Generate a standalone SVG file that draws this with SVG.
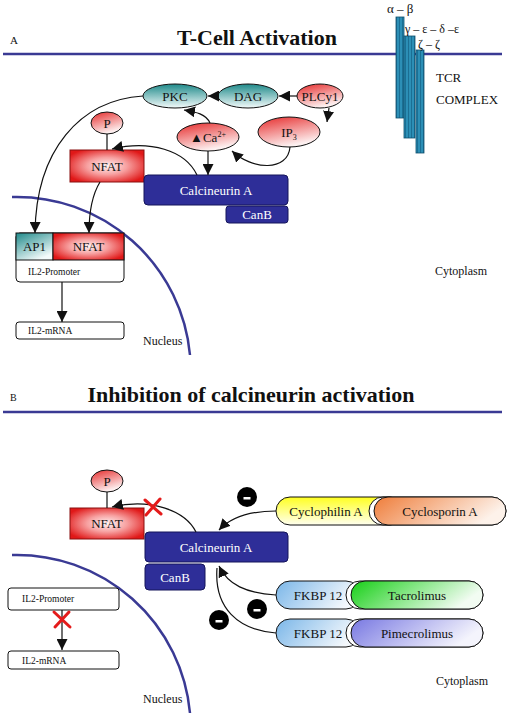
<svg xmlns="http://www.w3.org/2000/svg" width="508" height="715" viewBox="0 0 508 715" font-family="'Liberation Serif', 'DejaVu Serif', serif">
<defs>
<style>
text{font-family:'Liberation Serif','DejaVu Serif',serif;fill:#111}
.title{font-size:22px;font-weight:bold}
.lbl{font-size:13px}
.sm{font-size:9.5px}
.w{fill:#fff;font-size:13px}
.mem{stroke:#3a3a94;stroke-width:2.5;fill:none}
.ell{stroke:#111;stroke-width:1}
.calc{fill:#2e2e98;stroke:#15155a;stroke-width:1}
.con{fill:none;stroke:#111;stroke-width:1.2}
.box{fill:#fff;stroke:#111;stroke-width:1}
.x{stroke:#e41b1b;stroke-width:3;stroke-linecap:round}
.bar{fill:url(#stripe);stroke:#0f4f6c;stroke-width:0.8}
</style>
<linearGradient id="teal" x1="0" y1="0" x2="0" y2="1"><stop offset="0" stop-color="#1f8a8a"/><stop offset="1" stop-color="#f4fbfb"/></linearGradient>
<linearGradient id="red" x1="0" y1="0" x2="0.4" y2="1"><stop offset="0" stop-color="#e62a2a"/><stop offset="1" stop-color="#fdf0f0"/></linearGradient>
<linearGradient id="tealbox" x1="0" y1="0" x2="0.6" y2="1"><stop offset="0" stop-color="#1f8a8a"/><stop offset="1" stop-color="#f4fbfb"/></linearGradient>
<radialGradient id="nfat" cx="0.5" cy="0.5" r="0.6"><stop offset="0" stop-color="#fff4f4"/><stop offset="0.45" stop-color="#f7a0a0"/><stop offset="1" stop-color="#e01818"/></radialGradient>
<linearGradient id="yel" x1="0" y1="0" x2="0" y2="1"><stop offset="0" stop-color="#ffff20"/><stop offset="1" stop-color="#fffff0"/></linearGradient>
<linearGradient id="org" x1="0" y1="0" x2="1" y2="0.3"><stop offset="0" stop-color="#ef7d3a"/><stop offset="1" stop-color="#fdf2ea"/></linearGradient>
<linearGradient id="blu" x1="0" y1="0" x2="1" y2="0.3"><stop offset="0" stop-color="#7ab6e8"/><stop offset="1" stop-color="#f4f8fc"/></linearGradient>
<linearGradient id="grn" x1="0" y1="0" x2="1" y2="0.3"><stop offset="0" stop-color="#16cf16"/><stop offset="1" stop-color="#f2fcf2"/></linearGradient>
<linearGradient id="pur" x1="0" y1="0" x2="1" y2="0.3"><stop offset="0" stop-color="#7878e2"/><stop offset="1" stop-color="#f4f4fc"/></linearGradient>
<pattern id="stripe" width="3" height="4" patternUnits="userSpaceOnUse"><rect width="3" height="4" fill="#2c8fb6"/><rect width="1" height="4" fill="#1b6f94"/></pattern>
<marker id="ah" viewBox="0 0 10 10" refX="10" refY="5" markerWidth="11" markerHeight="11" markerUnits="userSpaceOnUse" orient="auto"><path d="M0,0 L10,5 L0,10 z" fill="#111"/></marker>
</defs>
<rect width="508" height="715" fill="#fff"/>

<!-- Section A -->
<g id="headerA">
<text x="10" y="44" font-size="11">A</text>
<text x="257" y="45" class="title" text-anchor="middle">T-Cell Activation</text>
<line x1="3" y1="54" x2="502" y2="54" class="mem"/>
</g>
<g id="tcr">
<rect x="396" y="17" width="8" height="101" class="bar"/>
<rect x="404" y="36" width="11" height="102" class="bar"/>
<rect x="416" y="50" width="8" height="103" class="bar"/>
<text x="387" y="13" font-size="13">α – β</text>
<text x="405" y="33" font-size="12">γ – ε – δ –ε</text>
<text x="418" y="48" font-size="12">ζ – ζ</text>
<text x="436" y="82" class="lbl">TCR</text>
<text x="436" y="104" class="lbl">COMPLEX</text>
</g>
<g id="nucleusA">
<path d="M12 197 A174 174 0 0 1 190 355" class="mem"/>
<text x="143" y="345" font-size="12">Nucleus</text>
<text x="435" y="275" font-size="12">Cytoplasm</text>
</g>
<g id="pkc"><ellipse cx="175" cy="96" rx="32" ry="12" fill="url(#teal)" class="ell"/><text x="175" y="101" class="lbl" text-anchor="middle">PKC</text></g>
<g id="dag"><ellipse cx="248" cy="96" rx="30" ry="12" fill="url(#teal)" class="ell"/><text x="248" y="101" class="lbl" text-anchor="middle">DAG</text></g>
<g id="plcy1"><ellipse cx="320" cy="96" rx="23" ry="12" fill="url(#red)" class="ell"/><text x="320" y="101" class="lbl" text-anchor="middle">PLCy1</text></g>
<g id="ip3"><ellipse cx="289" cy="132" rx="31" ry="15" fill="url(#red)" class="ell"/><text x="289" y="137" class="lbl" text-anchor="middle">IP<tspan font-size="8" dy="3">3</tspan></text></g>
<g id="ca"><ellipse cx="208" cy="137" rx="31" ry="14" fill="url(#red)" class="ell"/><text x="208" y="142" class="lbl" text-anchor="middle">▲Ca<tspan font-size="8" dy="-5">2+</tspan></text></g>
<g id="pA"><ellipse cx="107" cy="123" rx="16" ry="11" fill="url(#red)" class="ell"/><text x="107" y="128" class="lbl" text-anchor="middle">P</text></g>
<g id="nfatA"><rect x="70" y="150" width="74" height="32" fill="url(#nfat)" stroke="#8a1010" stroke-width="1"/><text x="107" y="171" class="lbl" text-anchor="middle">NFAT</text></g>
<g id="calcA"><rect x="144" y="175" width="144" height="30" rx="4" class="calc"/><text x="216" y="195" class="w" text-anchor="middle">Calcineurin A</text></g>
<g id="canbA"><rect x="226" y="206" width="62" height="17" rx="3" class="calc"/><text x="257" y="219" class="w" font-size="12" text-anchor="middle">CanB</text></g>
<g id="promoterA">
<rect x="16" y="233" width="108" height="49" rx="4" class="box"/>
<rect x="16" y="233" width="37" height="27" fill="url(#tealbox)" stroke="#111" stroke-width="1"/>
<rect x="53" y="233" width="71" height="27" fill="url(#nfat)" stroke="#111" stroke-width="1"/>
<text x="34.5" y="251" class="lbl" text-anchor="middle">AP1</text>
<text x="88.5" y="251" class="lbl" text-anchor="middle">NFAT</text>
<text x="28" y="275" class="sm">IL2-Promoter</text>
</g>
<g id="mrnaA"><rect x="16" y="322" width="108" height="17" rx="3" class="box"/><text x="28" y="334" class="sm">IL2-mRNA</text></g>

<g id="connectorsA">
<path d="M297 96 L279 96" class="con" marker-end="url(#ah)"/>
<path d="M218 96 L208 96" class="con" marker-end="url(#ah)"/>
<path d="M329 108 L327 122" class="con" marker-end="url(#ah)"/>
<path d="M290 147 C288 172 252 170 232 151" class="con" marker-end="url(#ah)"/>
<path d="M210 123 C206 114 196 112 184 110" class="con" marker-end="url(#ah)"/>
<path d="M208 151 L208 175" class="con" marker-end="url(#ah)"/>
<path d="M197 175 C185 150 150 140 112 149" class="con" marker-end="url(#ah)"/>
<path d="M107 134 L107 150" class="con"/>
<path d="M143 96 C80 100 36 150 35 233" class="con" marker-end="url(#ah)"/>
<path d="M100 182 C92 195 89 212 89 233" class="con" marker-end="url(#ah)"/>
<path d="M62 282 L62 322" class="con" marker-end="url(#ah)"/>
</g>

<!-- Section B -->
<g id="headerB">
<text x="10" y="401" font-size="10">B</text>
<text x="251" y="402" class="title" text-anchor="middle">Inhibition of calcineurin activation</text>
<line x1="3" y1="412" x2="502" y2="412" class="mem"/>
</g>
<g id="nucleusB">
<path d="M12 555 A174 174 0 0 1 190 713" class="mem"/>
<text x="143" y="703" font-size="12">Nucleus</text>
<text x="436" y="685" font-size="12">Cytoplasm</text>
</g>
<g id="pB"><ellipse cx="107" cy="481" rx="16" ry="11" fill="url(#red)" class="ell"/><text x="107" y="486" class="lbl" text-anchor="middle">P</text></g>
<g id="nfatB"><rect x="70" y="508" width="74" height="31" fill="url(#nfat)" stroke="#8a1010" stroke-width="1"/><text x="107" y="528" class="lbl" text-anchor="middle">NFAT</text></g>
<g id="calcB"><rect x="145" y="532" width="143" height="30" rx="4" class="calc"/><text x="216" y="552" class="w" text-anchor="middle">Calcineurin A</text></g>
<g id="canbB"><rect x="145" y="564" width="60" height="26" rx="4" class="calc"/><text x="175" y="582" class="w" font-size="12" text-anchor="middle">CanB</text></g>
<g id="cyclo">
<rect x="276" y="497" width="128" height="28" rx="14" fill="url(#yel)" stroke="#111"/>
<rect x="369" y="497" width="137" height="28" rx="14" fill="#fff" stroke="#111"/>
<rect x="374" y="497" width="132" height="28" rx="14" fill="url(#org)" stroke="#111"/>
<text x="326" y="516" class="lbl" text-anchor="middle">Cyclophilin A</text>
<text x="440" y="516" class="lbl" text-anchor="middle">Cyclosporin A</text>
</g>
<g id="tacro">
<rect x="276" y="581" width="84" height="28" rx="14" fill="url(#blu)" stroke="#111"/>
<rect x="346" y="581" width="137" height="28" rx="14" fill="#fff" stroke="#111"/>
<rect x="351" y="581" width="132" height="28" rx="14" fill="url(#grn)" stroke="#111"/>
<text x="318" y="600" class="lbl" text-anchor="middle">FKBP 12</text>
<text x="417" y="600" class="lbl" text-anchor="middle">Tacrolimus</text>
</g>
<g id="pimec">
<rect x="276" y="619" width="84" height="28" rx="14" fill="url(#blu)" stroke="#111"/>
<rect x="346" y="619" width="137" height="28" rx="14" fill="#fff" stroke="#111"/>
<rect x="351" y="619" width="132" height="28" rx="14" fill="url(#pur)" stroke="#111"/>
<text x="318" y="638" class="lbl" text-anchor="middle">FKBP 12</text>
<text x="417" y="638" class="lbl" text-anchor="middle">Pimecrolimus</text>
</g>
<g id="promoterB"><rect x="8" y="588" width="111" height="22" rx="3" class="box"/><text x="22" y="602" class="sm">IL2-Promoter</text></g>
<g id="mrnaB"><rect x="8" y="651" width="111" height="18" rx="3" class="box"/><text x="22" y="664" class="sm">IL2-mRNA</text></g>
<g id="minus">
<circle cx="247" cy="497" r="10" fill="#000"/><rect x="243.5" y="497" width="7" height="2.5" fill="#fff"/>
<circle cx="257" cy="609" r="10" fill="#000"/><rect x="253.5" y="609" width="7" height="2.5" fill="#fff"/>
<circle cx="219" cy="620" r="10" fill="#000"/><rect x="215.5" y="620" width="7" height="2.5" fill="#fff"/>
</g>

<g id="connectorsB">
<path d="M107 492 L107 508" class="con"/>
<path d="M196 532 C185 510 150 498 112 507" class="con" marker-end="url(#ah)"/>
<path d="M276 511 C252 511 232 516 219 530" class="con" marker-end="url(#ah)"/>
<path d="M276 595 C246 593 228 585 219 566" class="con" marker-end="url(#ah)"/>
<path d="M276 633 C238 630 214 608 217 568" class="con"/>
<path d="M62 610 L62 650" class="con" marker-end="url(#ah)"/>
<line x1="146" y1="515" x2="160" y2="499" class="x"/><line x1="145" y1="500" x2="161" y2="514" class="x"/>
<line x1="55" y1="627" x2="69" y2="612" class="x"/><line x1="54" y1="612" x2="70" y2="627" class="x"/>
</g>
</svg>
